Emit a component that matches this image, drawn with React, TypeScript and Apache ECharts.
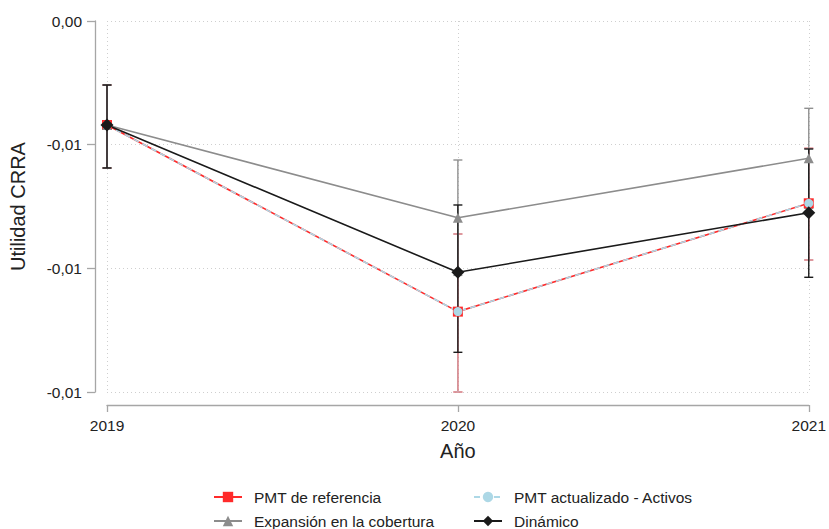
import React, { useEffect, useRef } from "react";
import * as echarts from "echarts";

const years = [2019, 2020, 2021];
const yTickLabels = ["0,00", "-0,01", "-0,01", "-0,01"];

const pmtRef = [-0.004205, -0.01175, -0.00737];
const pmtRefLo = [-0.005943, -0.015, -0.009663];
const pmtRefHi = [-0.002588, -0.008612, -0.005147];

const pmtAct = [-0.004205, -0.01175, -0.00737];
const pmtActLo = [-0.005943, -0.015, -0.009663];
const pmtActHi = [-0.002588, -0.008612, -0.005147];

const expansion = [-0.004205, -0.007953, -0.005551];
const expansionLo = [-0.005943, -0.010285, -0.007573];
const expansionHi = [-0.002588, -0.00562, -0.00353];

const dinamico = [-0.004205, -0.01016, -0.00775];
const dinamicoLo = [-0.005943, -0.013395, -0.010362];
const dinamicoHi = [-0.002588, -0.007439, -0.005175];

const legendNames = [
  "PMT de referencia",
  "PMT actualizado - Activos",
  "Expansión en la cobertura",
  "Dinámico",
];

const FONT = "Liberation Sans, Arial, sans-serif";

function errorBars(name: string, lo: number[], hi: number[], color: string, opacity = 1) {
  return {
    type: "custom",
    name: name + "_ci",
    clip: false,
    silent: true,
    z: 1,
    data: years.map((y, i) => [y, lo[i], hi[i]]),
    encode: { x: 0, y: [1, 2] },
    renderItem: (params: any, api: any) => {
      const x = api.value(0);
      const pLo = api.coord([x, api.value(1)]);
      const pHi = api.coord([x, api.value(2)]);
      const w = 4.5;
      const style = { stroke: color, lineWidth: 1.4, opacity };
      return {
        type: "group",
        children: [
          { type: "line", shape: { x1: pLo[0], y1: pLo[1], x2: pHi[0], y2: pHi[1] }, style },
          { type: "line", shape: { x1: pLo[0] - w, y1: pLo[1], x2: pLo[0] + w, y2: pLo[1] }, style },
          { type: "line", shape: { x1: pHi[0] - w, y1: pHi[1], x2: pHi[0] + w, y2: pHi[1] }, style },
        ],
      };
    },
  };
}

function lineSeries(name: string, vals: number[], color: string, symbol: string, size: number, dashed = false) {
  return {
    type: "line",
    name,
    data: years.map((y, i) => [y, vals[i]]),
    symbol,
    symbolSize: size,
    z: 3,
    itemStyle: { color },
    lineStyle: { color, width: 1.6, type: dashed ? [6, 4] : "solid" },
  };
}

function legendItem(name: string, left: number, top: number) {
  return {
    left,
    top,
    padding: 0,
    orient: "horizontal",
    itemWidth: 28,
    itemHeight: 13,
    data: [name],
    textStyle: {
      fontSize: 15.5,
      lineHeight: 18,
      color: "#222",
      fontFamily: FONT,
      padding: [0, 0, 0, 7],
    },
  };
}

export default function App() {
  const ref = useRef<HTMLDivElement>(null);
  useEffect(() => {
    const chart = echarts.init(ref.current!, null, { renderer: "svg" });
    const axisCol = "#a6a6a6";
    chart.setOption({
      animation: false,
      backgroundColor: "#ffffff",
      grid: { left: 107, right: 20, top: 21, bottom: 137 },
      xAxis: {
        type: "value",
        min: 2019,
        max: 2021,
        interval: 1,
        offset: 13,
        name: "Año",
        nameLocation: "middle",
        nameGap: 36,
        nameTextStyle: { fontSize: 20, color: "#222", fontFamily: FONT },
        axisLine: { show: true, onZero: false, lineStyle: { color: axisCol, width: 1.3 } },
        axisTick: { show: true, length: 7, lineStyle: { color: axisCol, width: 1.3 } },
        axisLabel: { fontSize: 15.5, color: "#222", fontFamily: FONT, margin: 12, formatter: (v: number) => String(v) },
        splitLine: { show: true, lineStyle: { color: "#cfcfcf", type: [1, 3], width: 1 } },
      },
      yAxis: {
        type: "value",
        min: -0.015,
        max: 0,
        interval: 0.005,
        offset: 12,
        name: "Utilidad CRRA",
        nameLocation: "middle",
        nameGap: 67,
        nameTextStyle: { fontSize: 20, color: "#222", fontFamily: FONT },
        axisLine: { show: true, onZero: false, lineStyle: { color: axisCol, width: 1.3 } },
        axisTick: { show: true, length: 8, lineStyle: { color: axisCol, width: 1.3 } },
        axisLabel: {
          fontSize: 15.5,
          color: "#222",
          fontFamily: FONT,
          margin: 13,
          formatter: (v: number) => yTickLabels[Math.round(-v / 0.005)] ?? "",
        },
        splitLine: { show: true, lineStyle: { color: "#cfcfcf", type: [1, 3], width: 1 } },
      },
      legend: [
        legendItem(legendNames[0], 213, 488),
        legendItem(legendNames[1], 473, 488),
        legendItem(legendNames[2], 213, 512),
        legendItem(legendNames[3], 473, 512),
      ],
      series: [
        errorBars(legendNames[0], pmtRefLo, pmtRefHi, "#ff2a2a"),
        errorBars(legendNames[1], pmtActLo, pmtActHi, "#add8e6", 0.6),
        errorBars(legendNames[2], expansionLo, expansionHi, "#909090"),
        errorBars(legendNames[3], dinamicoLo, dinamicoHi, "#1a1a1a"),
        lineSeries(legendNames[0], pmtRef, "#ff2a2a", "rect", 10),
        lineSeries(legendNames[1], pmtAct, "#add8e6", "circle", 9, true),
        lineSeries(legendNames[2], expansion, "#8c8c8c", "triangle", 10),
        lineSeries(legendNames[3], dinamico, "#1a1a1a", "diamond", 13),
      ],
    });
    return () => chart.dispose();
  }, []);
  return (
    <div
      ref={ref}
      style={{ position: "absolute", left: 0, top: 0, width: 829, height: 529 }}
    />
  );
}
